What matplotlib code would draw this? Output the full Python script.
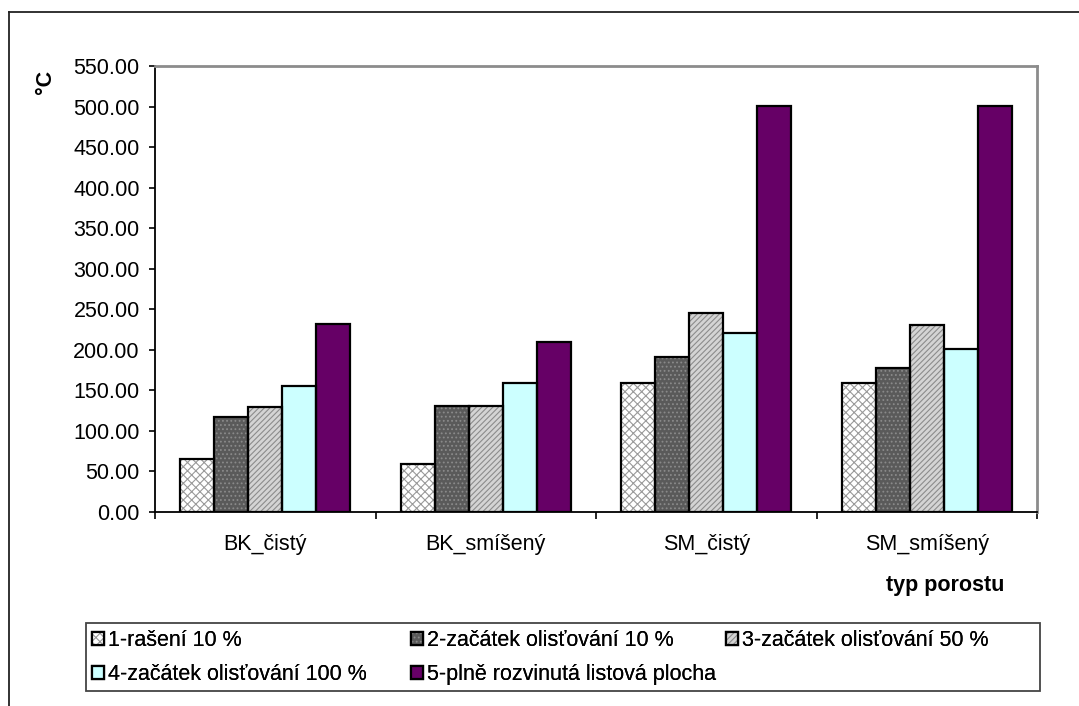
import matplotlib
matplotlib.use("Agg")
import matplotlib.pyplot as plt
import numpy as np
from matplotlib.patches import Patch, Rectangle
from matplotlib.lines import Line2D
from matplotlib.legend_handler import HandlerTuple
from matplotlib.ticker import FormatStrFormatter

categories = ["BK_čistý", "BK_smíšený", "SM_čistý", "SM_smíšený"]
series_names = [
    "1-rašení 10 %",
    "2-začátek olisťování 10 %",
    "3-začátek olisťování 50 %",
    "4-začátek olisťování 100 %",
    "5-plně rozvinutá listová plocha",
]
s1_rasení = [65, 59, 159, 159]
s2_olist10 = [117, 131, 191, 178]
s3_olist50 = [130, 131, 246, 231]
s4_olist100 = [155, 159, 221, 201]
s5_plocha = [232, 210, 501, 501]
values = [s1_rasení, s2_olist10, s3_olist50, s4_olist100, s5_plocha]

y_ticks = np.arange(0, 551, 50)

# fill, hatch, hatch colour per series
styles = [
    ("#FFFFFF", "xxxx", "#9A9A9A"),
    ("#5A5A5A", "....", "#8A8A8A"),
    ("#D4D4D4", "//////", "#8C8C8C"),
    ("#CCFFFF", None, "#CCFFFF"),
    ("#660066", None, "#660066"),
]

FS = 15.5
plt.rcParams["font.family"] = ["Liberation Sans", "DejaVu Sans"]
plt.rcParams["hatch.linewidth"] = 0.8

W, H = 1079, 706
fig = plt.figure(figsize=(W / 100, H / 100), dpi=100)
fig.patch.set_facecolor("white")

def fx(px):
    return px / W

def fy(py):
    return 1 - py / H

# outer chart border (top and left visible)
fig.add_artist(Line2D([fx(9), fx(1079)], [fy(12), fy(12)], color="#222222", lw=1.3))
fig.add_artist(Line2D([fx(9), fx(9)], [fy(12), fy(706)], color="#222222", lw=1.3))

ax = fig.add_axes([fx(155), fy(512), fx(1037) - fx(155), fy(66) - fy(512)])
ax.set_facecolor("white")

n = len(values)
gap = 1.5  # gap width relative to bar width
bw = 1.0 / (n + gap)
x = np.arange(len(categories))
for i, (vals, (fc, hatch, hc)) in enumerate(zip(values, styles)):
    pos = x - 0.5 + bw * (gap / 2 + i + 0.5)
    ax.bar(pos, vals, width=bw, color=fc, hatch=hatch, edgecolor=hc, linewidth=0, zorder=2)
    ax.bar(pos, vals, width=bw, fill=False, edgecolor="black", linewidth=1.6, zorder=3)

ax.set_xlim(-0.5, len(categories) - 0.5)
ax.set_ylim(0, 550)
ax.set_yticks(y_ticks)
ax.yaxis.set_major_formatter(FormatStrFormatter("%.2f"))
ax.tick_params(axis="y", direction="out", length=4, width=1.2, pad=7, labelsize=FS, colors="black")

ax.set_xticks(np.arange(len(categories) + 1) - 0.5)
ax.set_xticklabels([])
ax.set_xticks(x, minor=True)
ax.set_xticklabels(categories, minor=True, fontsize=FS)
ax.tick_params(axis="x", which="major", direction="out", length=5, width=1.2)
ax.tick_params(axis="x", which="minor", length=0, pad=16)

for side in ("left", "bottom"):
    ax.spines[side].set_color("black")
    ax.spines[side].set_linewidth(1.3)
for side in ("top", "right"):
    ax.spines[side].set_color("#8C8C8C")
    ax.spines[side].set_linewidth(2)

fig.text(fx(945), fy(585), "typ porostu", fontsize=FS, fontweight="bold", ha="center", va="center")
fig.text(fx(45), fy(82), "°C", fontsize=FS, fontweight="bold", rotation=90, ha="center", va="center")

# legend frame
fig.add_artist(Rectangle((fx(86), fy(691)), fx(1040) - fx(86), fy(623) - fy(691),
                         transform=fig.transFigure, fill=False, edgecolor="#444444", lw=1.3))

def handle(i):
    fc, hatch, hc = styles[i]
    return (Patch(facecolor=fc, hatch=hatch, edgecolor=hc, linewidth=0),
            Patch(fill=False, edgecolor="black", linewidth=1.6))

columns = [[0, 3], [1, 4], [2]]
col_x = [88, 407, 722]
for idxs, cx in zip(columns, col_x):
    leg = fig.legend([handle(i) for i in idxs], [series_names[i] for i in idxs],
                     handler_map={tuple: HandlerTuple(ndivide=1, pad=0)},
                     loc="upper left", bbox_to_anchor=(fx(cx), fy(626)),
                     frameon=False, fontsize=FS, handlelength=0.55, handleheight=0.55,
                     handletextpad=0.2, labelspacing=0.6, borderpad=0.2, borderaxespad=0)
    fig.add_artist(leg)

fig.savefig("out.png", dpi=100, facecolor="white")
